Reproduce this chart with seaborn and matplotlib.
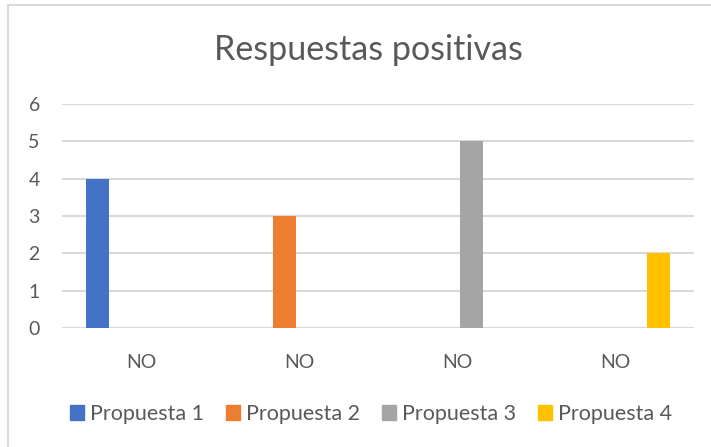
import matplotlib
matplotlib.use("Agg")
import matplotlib.pyplot as plt
import seaborn as sns
import pandas as pd
from matplotlib.patches import Rectangle

# ── Data ───────────────────────────────────────────────────────────────────────
grupos = ["G1", "G2", "G3", "G4"]
etiquetas_x = ["NO", "NO", "NO", "NO"]
series = ["Propuesta 1", "Propuesta 2", "Propuesta 3", "Propuesta 4"]
propuesta_1 = [4, 0, 0, 0]
propuesta_2 = [0, 3, 0, 0]
propuesta_3 = [0, 0, 5, 0]
propuesta_4 = [0, 0, 0, 2]
colores = ["#4472C4", "#ED7D31", "#A5A5A5", "#FFC000"]

df = pd.DataFrame({
    "grupo": grupos * 4,
    "serie": [s for s in series for _ in grupos],
    "valor": propuesta_1 + propuesta_2 + propuesta_3 + propuesta_4,
})

sns.set_style("white")
plt.rcParams["font.family"] = ["Lato", "DejaVu Sans"]
gris_texto = "#595959"
gris_linea = "#D9D9D9"

fig = plt.figure(figsize=(7.11, 4.47), dpi=100)
ax = fig.add_axes([62 / 711, 1 - 328 / 447, 632 / 711, 224 / 447])

sns.barplot(data=df, x="grupo", y="valor", hue="serie", hue_order=series,
            palette=colores, saturation=1, width=0.734, gap=0.2,
            linewidth=0, ax=ax, zorder=3)

ax.set_xlim(-0.5, 3.5)
ax.set_ylim(0, 6)
ax.set_yticks(range(0, 7))
ax.set_xticks(range(len(grupos)))
ax.set_xticklabels(etiquetas_x)
ax.set_xlabel("")
ax.set_ylabel("")
ax.grid(axis="y", color=gris_linea, linewidth=1.5, zorder=0)
ax.set_axisbelow(True)
for s in ax.spines.values():
    s.set_visible(False)
ax.tick_params(axis="y", length=0, pad=16, labelsize=14, labelcolor=gris_texto)
ax.tick_params(axis="x", length=0, pad=19, labelsize=14, labelcolor=gris_texto)

fig.text(368 / 711, 1 - 50 / 447, "Respuestas positivas", ha="center", va="center",
         fontsize=24.5, color=gris_texto)

ax.legend_.remove()
handles = [Rectangle((0, 0), 1, 1, color=c) for c in colores]
fig.legend(handles, series, loc="center", bbox_to_anchor=(371 / 711, 1 - 414 / 447),
           ncol=4, frameon=False, fontsize=15.5, handlelength=0.65, handleheight=0.65,
           handletextpad=0.3, columnspacing=1.0, labelcolor=gris_texto)

# marco exterior del gráfico
fig.patches.append(Rectangle((8 / 711, -0.02), 1.0, 1 - 5 / 447 + 0.02,
                             transform=fig.transFigure, fill=False,
                             edgecolor=gris_linea, linewidth=1.5))

fig.savefig("out.png", dpi=100)
